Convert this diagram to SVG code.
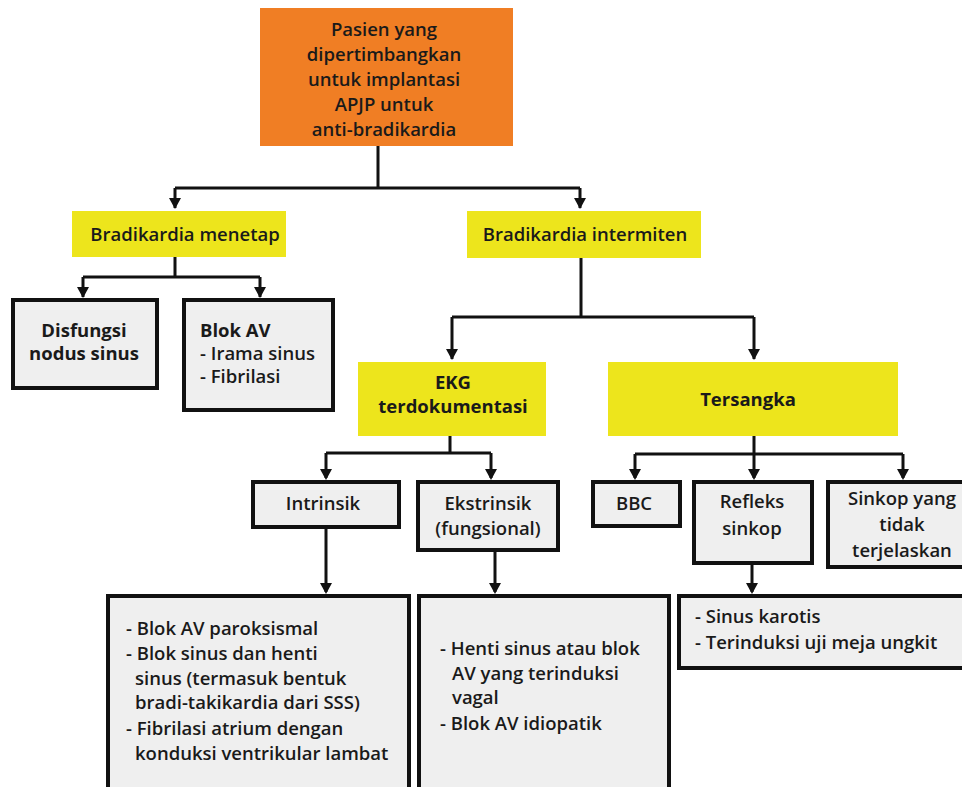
<svg xmlns="http://www.w3.org/2000/svg" width="962" height="787" viewBox="0 0 962 787">
<style>
text{font-family:"Open Sans","Liberation Sans",sans-serif;font-size:18.5px;fill:#1a1a1a;font-weight:600}
.b{font-weight:700}
.c{text-anchor:middle}
.gray{fill:#efefef;stroke:#111;stroke-width:4}
.yel{fill:#ede51c}
.org{fill:#f07e24}
.ln{fill:none;stroke:#111;stroke-width:3}
</style>
<rect width="962" height="787" fill="#fff"/>
<g id="connectors">
<path class="ln" d="M378,146 V188 M175,188 H580"/>
<path class="ln" d="M175,188 V208"/>
<path class="ln" d="M580,188 V208"/>
<path class="ln" d="M175,257 V277 M83,277 H260"/>
<path class="ln" d="M83,277 V297"/>
<path class="ln" d="M260,277 V297"/>
<path class="ln" d="M581,258 V317 M452,317 H754"/>
<path class="ln" d="M452,317 V359"/>
<path class="ln" d="M754,317 V359"/>
<path class="ln" d="M450,436 V453 M326,453 H491"/>
<path class="ln" d="M326,453 V478"/>
<path class="ln" d="M491,453 V478"/>
<path class="ln" d="M754,436 V454 M635,454 H903"/>
<path class="ln" d="M635,454 V478"/>
<path class="ln" d="M754,454 V478"/>
<path class="ln" d="M903,454 V478"/>
<path class="ln" d="M326,527 V592"/>
<path class="ln" d="M495,550 V592"/>
<path class="ln" d="M752,563 V592"/>
<g fill="#111">
<polygon points="169,198 181,198 175,209"/>
<polygon points="574,198 586,198 580,209"/>
<polygon points="77,287 89,287 83,298"/>
<polygon points="254,287 266,287 260,298"/>
<polygon points="446,349 458,349 452,360"/>
<polygon points="748,349 760,349 754,360"/>
<polygon points="320,469 332,469 326,480"/>
<polygon points="485,469 497,469 491,480"/>
<polygon points="629,469 641,469 635,480"/>
<polygon points="748,469 760,469 754,480"/>
<polygon points="897,469 909,469 903,480"/>
<polygon points="320,583 332,583 326,594"/>
<polygon points="489,583 501,583 495,594"/>
<polygon points="746,583 758,583 752,594"/>
</g>
</g>
<g id="root">
<rect class="org" x="260" y="8" width="253" height="138"/>
<text class="c" x="384" y="36">Pasien yang</text>
<text class="c" x="384" y="61">dipertimbangkan</text>
<text class="c" x="384" y="86">untuk implantasi</text>
<text class="c" x="384" y="111">APJP untuk</text>
<text class="c" x="384" y="136">anti-bradikardia</text>
</g>
<g id="menetap">
<rect class="yel" x="72" y="211" width="214" height="46"/>
<text class="c" x="185" y="241">Bradikardia menetap</text>
</g>
<g id="intermiten">
<rect class="yel" x="467" y="211" width="234" height="47"/>
<text class="c" x="585" y="241">Bradikardia intermiten</text>
</g>
<g id="disfungsi">
<rect class="gray" x="13" y="300" width="144" height="88"/>
<text class="c b" x="84" y="337">Disfungsi</text>
<text class="c b" x="84" y="360">nodus sinus</text>
</g>
<g id="blokav">
<rect class="gray" x="184" y="300" width="149" height="110"/>
<text class="b" x="200" y="337">Blok AV</text>
<text x="200" y="360">- Irama sinus</text>
<text x="200" y="383">- Fibrilasi</text>
</g>
<g id="ekg">
<rect class="yel" x="358" y="362" width="188" height="74"/>
<text class="c b" x="453" y="389">EKG</text>
<text class="c b" x="453" y="413">terdokumentasi</text>
</g>
<g id="tersangka">
<rect class="yel" x="608" y="362" width="290" height="74"/>
<text class="c b" x="748" y="406">Tersangka</text>
</g>
<g id="intrinsik">
<rect class="gray" x="253" y="482" width="146" height="45"/>
<text class="c" x="323" y="510">Intrinsik</text>
</g>
<g id="ekstrinsik">
<rect class="gray" x="418" y="482" width="140" height="68"/>
<text class="c" x="488" y="510">Ekstrinsik</text>
<text class="c" x="488" y="535">(fungsional)</text>
</g>
<g id="bbc">
<rect class="gray" x="593" y="482" width="87" height="44"/>
<text class="c" x="634" y="510">BBC</text>
</g>
<g id="refleks">
<rect class="gray" x="694" y="482" width="118" height="81"/>
<text class="c" x="752" y="508">Refleks</text>
<text class="c" x="752" y="535">sinkop</text>
</g>
<g id="sinkop">
<rect class="gray" x="828" y="482" width="140" height="85"/>
<text class="c" x="902" y="505">Sinkop yang</text>
<text class="c" x="902" y="531">tidak</text>
<text class="c" x="902" y="557">terjelaskan</text>
</g>
<g id="intrinsik-list">
<rect class="gray" x="108" y="596" width="301" height="200"/>
<text x="126" y="635">- Blok AV paroksismal</text>
<text x="126" y="660">- Blok sinus dan henti</text>
<text x="135" y="685">sinus (termasuk bentuk</text>
<text x="135" y="709">bradi-takikardia dari SSS)</text>
<text x="126" y="735">- Fibrilasi atrium dengan</text>
<text x="135" y="760">konduksi ventrikular lambat</text>
</g>
<g id="ekstrinsik-list">
<rect class="gray" x="419" y="596" width="250" height="200"/>
<text x="440" y="655">- Henti sinus atau blok</text>
<text x="452" y="680">AV yang terinduksi</text>
<text x="452" y="704">vagal</text>
<text x="440" y="730">- Blok AV idiopatik</text>
</g>
<g id="refleks-list">
<rect class="gray" x="679" y="596" width="290" height="72"/>
<text x="695" y="623">- Sinus karotis</text>
<text x="695" y="649">- Terinduksi uji meja ungkit</text>
</g>
</svg>
